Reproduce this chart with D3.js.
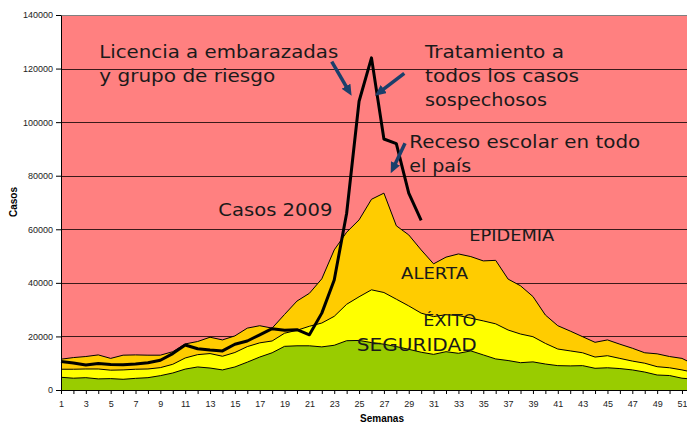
<!DOCTYPE html>
<html>
<head>
<meta charset="utf-8">
<script src="https://cdn.jsdelivr.net/npm/d3@7"></script>
<style>
  body { margin: 0; background: #fff; }
  svg text { font-family: "Liberation Sans", Arial, sans-serif; }
  .note { font-family: "DejaVu Sans", Verdana, sans-serif; fill: #1a1a1a; }
  .axis-title { font-weight: bold; font-size: 10px; fill: #000; }
</style>
</head>
<body>
<svg id="chart"></svg>
<script>
const weeks = d3.range(1, 53);

// top of each band (cases per week)
const seguridad = [4750, 4400, 4600, 4150, 4250, 4000, 4350, 4600, 5350, 6350,
  7800, 8600, 8200, 7500, 8600, 10400, 12300, 13900, 16300, 16500,
  16500, 16100, 16700, 18400, 18500, 17700, 17100, 16200, 15200, 14100,
  13300, 14300, 13700, 14600, 13100, 11600, 11000, 10200, 10500, 9700,
  9100, 9000, 9100, 8100, 8300, 8000, 7500, 6700, 5600, 5400, 4400, 4000];
const exito = [7750, 7750, 7850, 7850, 7400, 7500, 7750, 7850, 8350, 9600,
  11950, 13200, 13600, 12600, 14000, 16200, 17600, 18300, 21200, 22300,
  23800, 25000, 27500, 32000, 34800, 37400, 36400, 33900, 31400, 28700,
  27400, 28100, 27800, 26800, 25800, 24700, 22400, 20900, 19900, 17400,
  15300, 14600, 13900, 12300, 12800, 11800, 10800, 10000, 8700, 8300, 7500, 6500];
const alerta = [11500, 12100, 12500, 13100, 11800, 13000, 13100, 13000, 13000, 14300,
  17200, 18100, 19700, 18700, 20200, 23100, 24000, 23100, 28200, 33200,
  36100, 41500, 52300, 58900, 63500, 71200, 73500, 61300, 57900, 52300,
  47100, 49600, 50800, 49800, 48200, 48400, 41400, 38900, 34900, 28000,
  24000, 22000, 19900, 17800, 18700, 17100, 15600, 13900, 13500, 12500, 11800, 9500];
const casos2009 = [10600, 10100, 9300, 9900, 9500, 9400, 9700, 10200, 11100, 13600,
  16800, 15400, 14900, 14600, 17100, 18300, 20600, 22900, 22300, 22500,
  20600, 28700, 41100, 66000, 107800, 124000, 93700, 92000, 73500, 63300];

const yTicks = [0, 20000, 40000, 60000, 80000, 100000, 120000, 140000];
const xLabels = weeks.filter(w => w % 2 === 1);

const width = 687, height = 424;

const x = d3.scaleLinear().domain([1, 52]).range([61, 694.4]);
const y = d3.scaleLinear().domain([0, 140000]).range([390, 15]);

const svg = d3.select('#chart')
  .attr('width', width)
  .attr('height', height);

svg.append('rect')
  .attr('width', width).attr('height', height)
  .attr('fill', '#fff');

// plot area (epidemia zone)
svg.append('rect')
  .attr('x', x(1)).attr('y', y(140000))
  .attr('width', x(52) - x(1)).attr('height', y(0) - y(140000))
  .attr('fill', '#FF8080');

svg.append('g')
  .selectAll('line')
  .data(yTicks.filter(d => d > 0))
  .enter().append('line')
  .attr('x1', x(1)).attr('x2', x(52))
  .attr('y1', d => Math.round(y(d)) + 0.5)
  .attr('y2', d => Math.round(y(d)) + 0.5)
  .attr('stroke', d => d === 140000 ? '#808080' : '#3a1a1a')
  .attr('stroke-width', 1);

const bands = [
  {values: alerta, fill: '#FFCC00'},
  {values: exito, fill: '#FFFF00'},
  {values: seguridad, fill: '#99CC00'}
];

const area = d3.area()
  .x((d, i) => x(weeks[i]))
  .y0(y(0))
  .y1(d => y(d));

const line = d3.line()
  .x((d, i) => x(weeks[i]))
  .y(d => y(d));

bands.forEach(b => {
  svg.append('path')
    .attr('d', area(b.values))
    .attr('fill', b.fill);
  svg.append('path')
    .attr('d', line(b.values))
    .attr('fill', 'none')
    .attr('stroke', '#000')
    .attr('stroke-width', 1);
});

svg.append('path')
  .attr('d', line(casos2009))
  .attr('fill', 'none')
  .attr('stroke', '#000')
  .attr('stroke-width', 3)
  .attr('stroke-linejoin', 'round');

// axes
const yAxis = svg.append('g')
  .attr('transform', `translate(${x(1)},0)`)
  .call(d3.axisLeft(y).tickValues(yTicks).tickSize(5).tickSizeOuter(0).tickPadding(3)
    .tickFormat(d3.format('d')));

const xAxis = svg.append('g')
  .attr('transform', `translate(0,${y(0)})`)
  .call(d3.axisBottom(x).tickValues(weeks).tickSize(4).tickSizeOuter(0).tickPadding(7)
    .tickFormat(d => xLabels.includes(d) ? d : ''));

[yAxis, xAxis].forEach(a => {
  a.selectAll('path, line').attr('stroke', '#000');
  a.selectAll('text')
    .style('font-family', '"Liberation Sans", Arial, sans-serif')
    .style('font-size', '9px')
    .attr('fill', '#222');
});

svg.append('text')
  .attr('class', 'axis-title')
  .attr('transform', 'translate(17,202) rotate(-90)')
  .attr('text-anchor', 'middle')
  .text('Casos');

svg.append('text')
  .attr('class', 'axis-title')
  .attr('x', 382).attr('y', 422)
  .attr('text-anchor', 'middle')
  .text('Semanas');

// annotations, anchored in chart units (week, cases)
const notes = [
  {lines: ['Licencia a embarazadas', 'y grupo de riesgo'], w: 4.08, v: 123830, size: 18, lens: [239, 176]},
  {lines: ['Tratamiento a', 'todos los casos', 'sospechosos'], w: 30.31, v: 123940, size: 18, lens: [139, 154, 122]},
  {lines: ['Receso escolar en todo', 'el país'], w: 29.04, v: 90230, size: 18, lens: [231, 62]},
  {lines: ['Casos 2009'], w: 13.67, v: 64950, size: 18, lens: [114]},
  {lines: ['EPIDEMIA'], w: 33.87, v: 55620, size: 16, lens: [85]},
  {lines: ['ALERTA'], w: 28.38, v: 41320, size: 16.5, lens: [67]},
  {lines: ['ÉXITO'], w: 30.17, v: 23890, size: 16.5, lens: [53]},
  {lines: ['SEGURIDAD'], w: 24.81, v: 14560, size: 17.5, lens: [120]}
];

notes.forEach(n => {
  n.lines.forEach((t, i) => {
    svg.append('text')
      .attr('class', 'note')
      .attr('x', x(n.w))
      .attr('y', y(n.v) + i * 24)
      .attr('font-size', n.size)
      .attr('textLength', n.lens[i])
      .attr('lengthAdjust', 'spacingAndGlyphs')
      .text(t);
  });
});

const arrows = [
  {from: [22.8, 122560], to: [24.4, 109860]},
  {from: [28.64, 118220], to: [26.28, 109860]},
  {from: [28.7, 92090], to: [27.55, 80890]}
];

svg.append('defs').append('marker')
  .attr('id', 'head')
  .attr('markerUnits', 'userSpaceOnUse')
  .attr('markerWidth', 12).attr('markerHeight', 10)
  .attr('refX', 1).attr('refY', 5)
  .attr('orient', 'auto')
  .append('path')
  .attr('d', 'M0,0 L11,5 L0,10 Z')
  .attr('fill', '#1b3f6b');

arrows.forEach(a => {
  const x1 = x(a.from[0]), y1 = y(a.from[1]);
  const x2 = x(a.to[0]), y2 = y(a.to[1]);
  const len = Math.hypot(x2 - x1, y2 - y1);
  const k = (len - 10) / len;
  svg.append('line')
    .attr('x1', x1).attr('y1', y1)
    .attr('x2', x1 + (x2 - x1) * k).attr('y2', y1 + (y2 - y1) * k)
    .attr('stroke', '#1b3f6b')
    .attr('stroke-width', 3.5)
    .attr('marker-end', 'url(#head)');
});
</script>
</body>
</html>
